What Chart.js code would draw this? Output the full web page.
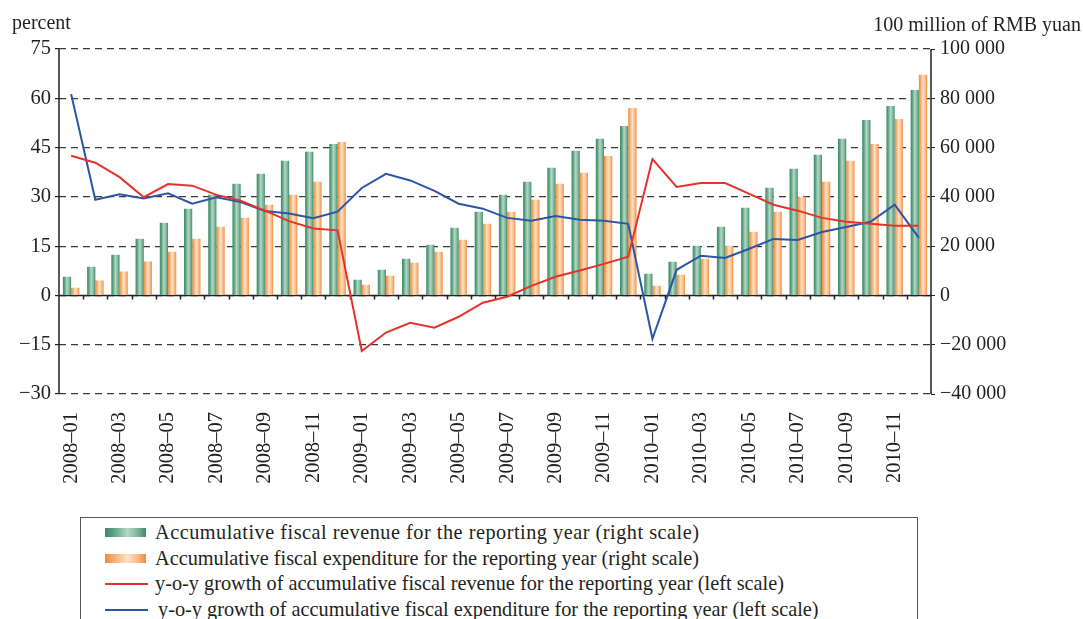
<!DOCTYPE html>
<html>
<head>
<meta charset="utf-8">
<script src="https://cdn.jsdelivr.net/npm/chart.js@4/dist/chart.umd.min.js"></script>
<style>
  html, body { margin: 0; padding: 0; background: #fff; overflow: hidden; }
  body { width: 1083px; height: 619px; position: relative; font-family: "Liberation Serif", serif; color: #231f20; }
  #wrap { position: absolute; left: 0; top: 0; width: 1083px; height: 500px; }
  #legend { position: absolute; left: 80px; top: 517px; width: 838px; height: 130px; border: 1px solid #555; box-sizing: border-box; padding-top: 2px; }
  .row { position: relative; height: 25.6px; line-height: 25.6px; font-size: 20.3px; padding-left: 74px; white-space: nowrap; }
  .sw { position: absolute; left: 24px; top: 8px; width: 41px; height: 9px; }
  .ln { position: absolute; left: 24px; top: 12px; width: 43px; height: 2px; }
</style>
</head>
<body>
<div id="wrap"><canvas id="c"></canvas></div>
<div id="legend">
  <div class="row" style="letter-spacing:0.5px"><span class="sw" style="background:linear-gradient(90deg,#3f8a66,#5aa07f 20%,#b3d8c6 55%,#7cb497 80%,#3f8a66)"></span>Accumulative fiscal revenue for the reporting year (right scale)</div>
  <div class="row"><span class="sw" style="background:linear-gradient(90deg,#f08a3c,#f6ab6c 20%,#fde2c6 55%,#f9b985 80%,#f08a3c)"></span>Accumulative fiscal expenditure for the reporting year (right scale)</div>
  <div class="row"><span class="ln" style="background:#e5332b"></span>y-o-y growth of accumulative fiscal revenue for the reporting year (left scale)</div>
  <div class="row" style="padding-left:77px"><span class="ln" style="background:#2b56a6"></span>y-o-y growth of accumulative fiscal expenditure for the reporting year (left scale)</div>
</div>
<script>
// months shown on the category axis
const months = [
  '2008–01','2008–02','2008–03','2008–04','2008–05','2008–06','2008–07','2008–08','2008–09','2008–10','2008–11','2008–12',
  '2009–01','2009–02','2009–03','2009–04','2009–05','2009–06','2009–07','2009–08','2009–09','2009–10','2009–11','2009–12',
  '2010–01','2010–02','2010–03','2010–04','2010–05','2010–06','2010–07','2010–08','2010–09','2010–10','2010–11','2010–12'
];

// 100 million RMB yuan, right scale
const revenue = [7580, 11630, 16500, 22990, 29470, 35150, 40820, 45280, 49340, 54610, 58260, 61500,
  6360, 10420, 14880, 20550, 27440, 33930, 40820, 46090, 51770, 58660, 63530, 68800,
  8800, 13660, 20150, 27850, 35550, 43660, 51360, 57040, 63530, 71230, 76900, 83390];
const expenditure = [3120, 6080, 9730, 13780, 17700, 22990, 27850, 31500, 36770, 40820, 46090, 62310,
  4340, 7990, 13260, 17710, 22580, 29070, 33930, 38800, 45280, 49740, 56630, 76090,
  3930, 8390, 14880, 20150, 25820, 33930, 40010, 46090, 54610, 61500, 71630, 89600];

// percent, left scale
const revenueGrowth = [42.5, 40.4, 36.0, 29.9, 33.9, 33.4, 30.6, 28.8, 25.8, 22.6, 20.4, 19.8,
  -16.9, -11.3, -8.3, -9.8, -6.5, -2.2, -0.4, 2.9, 5.7, 7.6, 9.6, 11.8,
  41.5, 33.0, 34.2, 34.2, 30.9, 27.6, 25.8, 23.6, 22.4, 21.8, 21.2, 21.2];
const expenditureGrowth = [61.3, 29.1, 30.8, 29.5, 31.1, 27.9, 29.9, 28.4, 25.7, 24.9, 23.5, 25.5,
  32.7, 37.0, 35.0, 31.8, 27.9, 26.4, 23.6, 22.7, 24.2, 23.0, 22.7, 21.8,
  -13.2, 7.8, 12.1, 11.4, 14.2, 17.2, 16.9, 19.3, 20.8, 22.4, 27.6, 17.5];

const leftTicks = { min: -30, max: 75, step: 15 };
const rightTicks = { min: -40000, max: 100000, step: 20000 };

const CAT_PCT = 0.68, BAR_PCT = 1;
const greenStops = [[0, '#3f8a66'], [0.2, '#5aa07f'], [0.5, '#b3d8c6'], [0.8, '#7cb497'], [1, '#3f8a66']];
const orangeStops = [[0, '#f08a3c'], [0.2, '#f6ab6c'], [0.5, '#fde2c6'], [0.8, '#f9b985'], [1, '#f08a3c']];
const ink = '#231f20';
const font = 'Liberation Serif';

// horizontal gradient across each bar
function barFill(c, stops, side) {
  const chart = c.chart, xs = chart.scales.x;
  if (!xs || !chart.chartArea || c.dataIndex === undefined) return stops[2][1];
  const cw = xs.width / months.length;
  const bw = cw * CAT_PCT / 2 * BAR_PCT;
  const cx = xs.getPixelForValue(c.dataIndex) + side * bw / 2;
  const g = chart.ctx.createLinearGradient(cx - bw / 2, 0, cx + bw / 2, 0);
  stops.forEach(s => g.addColorStop(s[0], s[1]));
  return g;
}

function minus(s) { return s.replace('-', '−'); }
function thousands(v) {
  const s = Math.abs(v).toString().replace(/\B(?=(\d{3})+(?!\d))/g, ' ');
  return (v < 0 ? '−' : '') + s;
}

const frame = {
  id: 'frame',
  beforeDatasetsDraw(chart) {
    const { ctx, chartArea: a, scales } = chart;
    const y0 = scales.yL.getPixelForValue(0);
    ctx.save();
    ctx.strokeStyle = '#222';
    ctx.lineWidth = 1.5;
    ctx.beginPath();
    ctx.moveTo(a.left, y0); ctx.lineTo(a.right, y0);
    const step = (a.right - a.left) / months.length;
    for (let k = 1; k < months.length; k++) {
      const x = Math.round(a.left + k * step) + 0.5;
      ctx.moveTo(x, y0); ctx.lineTo(x, y0 + 4);
    }
    ctx.stroke();
    ctx.restore();
  },
  afterDraw(chart) {
    const { ctx, chartArea: a } = chart;
    ctx.save();
    ctx.strokeStyle = '#222';
    ctx.lineWidth = 1.5;
    ctx.beginPath();
    ctx.moveTo(a.left, a.top); ctx.lineTo(a.left, a.bottom);
    ctx.moveTo(a.right, a.top); ctx.lineTo(a.right, a.bottom);
    ctx.stroke();
    ctx.fillStyle = ink;
    ctx.font = '20px "' + font + '"';
    ctx.textBaseline = 'alphabetic';
    ctx.textAlign = 'left';
    ctx.fillText('percent', 12, 29);
    ctx.textAlign = 'right';
    ctx.fillText('100 million of RMB yuan', 1081, 31);
    ctx.restore();
  }
};

new Chart(document.getElementById('c'), {
  data: {
    labels: months,
    datasets: [
      { type: 'line', label: 'y-o-y growth of accumulative fiscal revenue for the reporting year (left scale)',
        data: revenueGrowth, yAxisID: 'yL', borderColor: '#e5332b', borderWidth: 2, pointRadius: 0, tension: 0, order: 0 },
      { type: 'line', label: 'y-o-y growth of accumulative fiscal expenditure for the reporting year (left scale)',
        data: expenditureGrowth, yAxisID: 'yL', borderColor: '#2b56a6', borderWidth: 2, pointRadius: 0, tension: 0, order: 1 },
      { type: 'bar', label: 'Accumulative fiscal revenue for the reporting year (right scale)',
        data: revenue, yAxisID: 'yR', backgroundColor: c => barFill(c, greenStops, -1),
        categoryPercentage: CAT_PCT, barPercentage: BAR_PCT, order: 2 },
      { type: 'bar', label: 'Accumulative fiscal expenditure for the reporting year (right scale)',
        data: expenditure, yAxisID: 'yR', backgroundColor: c => barFill(c, orangeStops, 1),
        categoryPercentage: CAT_PCT, barPercentage: BAR_PCT, order: 2 }
    ]
  },
  options: {
    responsive: true,
    maintainAspectRatio: false,
    animation: false,
    layout: { padding: { top: 49, left: 0, right: 0, bottom: 0 } },
    plugins: { legend: { display: false }, tooltip: { enabled: false } },
    scales: {
      x: {
        offset: true,
        grid: { display: false },
        border: { display: false },
        afterFit: s => { s.height = 106; },
        ticks: {
          autoSkip: false, minRotation: 90, maxRotation: 90, padding: 10,
          color: ink, font: { family: font, size: 20.5 },
          callback: (v, i) => i % 2 === 0 ? months[i] : ''
        }
      },
      yL: {
        position: 'left', min: leftTicks.min, max: leftTicks.max,
        afterFit: s => { s.width = 59; },
        border: { display: false, dash: [7, 5] },
        grid: { color: '#3a3a3a', lineWidth: 1.2, tickLength: 4, tickColor: '#222', tickBorderDash: [] },
        ticks: { stepSize: leftTicks.step, padding: 4, color: ink, font: { family: font, size: 20.5 },
          callback: v => minus(String(v)) }
      },
      yR: {
        position: 'right', min: rightTicks.min, max: rightTicks.max,
        afterFit: s => { s.width = 152; },
        border: { display: false },
        grid: { drawOnChartArea: false, tickLength: 4, tickColor: '#222' },
        ticks: { stepSize: rightTicks.step, padding: 5, color: ink, font: { family: font, size: 20 },
          callback: v => thousands(v) }
      }
    }
  },
  plugins: [frame]
});
</script>
</body>
</html>
